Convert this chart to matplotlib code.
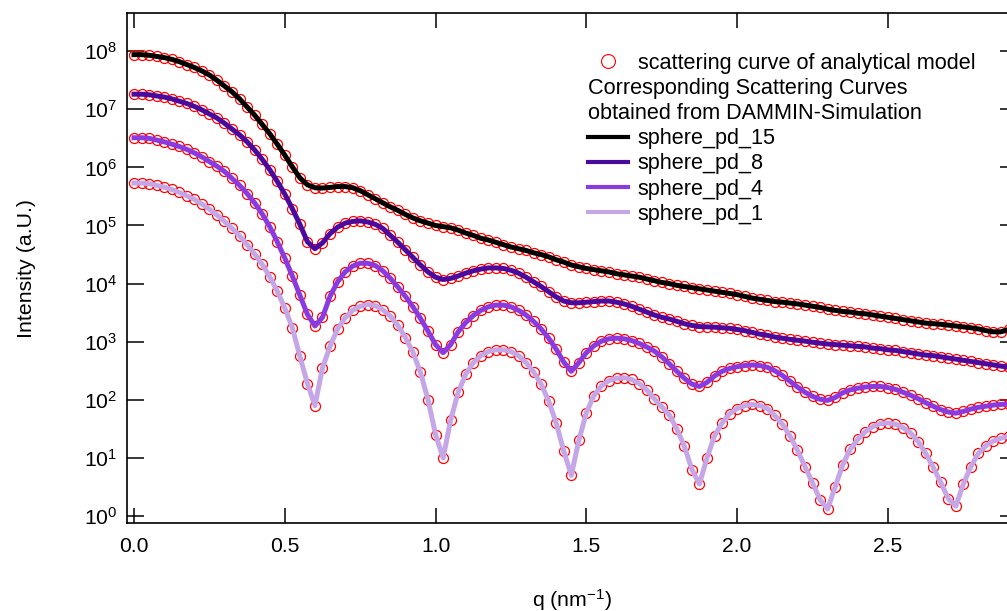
import matplotlib
matplotlib.use("Agg")
import matplotlib.pyplot as plt
from matplotlib.lines import Line2D
from matplotlib.ticker import FixedLocator, FuncFormatter, NullLocator, MultipleLocator
import numpy as np

plt.rcParams['font.family'] = ['Liberation Sans', 'DejaVu Sans']
plt.rcParams['mathtext.fontset'] = 'custom'
plt.rcParams['mathtext.rm'] = 'Liberation Sans'
plt.rcParams['mathtext.it'] = 'Liberation Sans:italic'
plt.rcParams['mathtext.default'] = 'regular'

# q grid in nm^-1 (step 0.025)
q = np.round(np.linspace(0.0, 2.925, 118), 3)

# log10 of intensity for every curve, same q grid
log_pd15 = [
    7.94, 7.94, 7.93, 7.91, 7.89, 7.86, 7.82, 7.77, 7.72, 7.66,
    7.59, 7.50, 7.40, 7.30, 7.18, 7.04, 6.90, 6.74, 6.58, 6.40,
    6.21, 6.01, 5.82, 5.70, 5.65, 5.645, 5.655, 5.67, 5.67, 5.65,
    5.60, 5.53, 5.46, 5.39, 5.32, 5.26, 5.19, 5.13, 5.08, 5.04,
    5.00, 4.98, 4.96, 4.92, 4.87, 4.83, 4.78, 4.75, 4.71, 4.67,
    4.63, 4.60, 4.57, 4.53, 4.50, 4.46, 4.41, 4.37, 4.32, 4.29,
    4.26, 4.24, 4.22, 4.20, 4.17, 4.15, 4.13, 4.11, 4.08, 4.05,
    4.02, 4.00, 3.97, 3.95, 3.93, 3.91, 3.89, 3.87, 3.85, 3.83,
    3.81, 3.78, 3.75, 3.73, 3.71, 3.69, 3.68, 3.665, 3.65, 3.63,
    3.61, 3.59, 3.56, 3.54, 3.52, 3.51, 3.49, 3.48, 3.46, 3.44,
    3.42, 3.40, 3.38, 3.36, 3.34, 3.32, 3.31, 3.30, 3.285, 3.27,
    3.255, 3.24, 3.22, 3.19, 3.17, 3.17, 3.21, 3.24,
]
log_pd8 = [
    7.26, 7.26, 7.25, 7.23, 7.21, 7.18, 7.14, 7.10, 7.05, 6.99,
    6.92, 6.85, 6.76, 6.66, 6.56, 6.44, 6.30, 6.14, 5.96, 5.76,
    5.54, 5.29, 5.02, 4.72, 4.60, 4.70, 4.86, 4.97, 5.04, 5.07,
    5.08, 5.06, 5.02, 4.95, 4.83, 4.71, 4.58, 4.45, 4.32, 4.20,
    4.11, 4.07, 4.09, 4.13, 4.18, 4.22, 4.25, 4.27, 4.27, 4.26,
    4.23, 4.18, 4.11, 4.03, 3.95, 3.86, 3.77, 3.70, 3.67, 3.67,
    3.68, 3.69, 3.70, 3.70, 3.68, 3.65, 3.61, 3.56, 3.51, 3.46,
    3.42, 3.39, 3.35, 3.31, 3.28, 3.26, 3.255, 3.25, 3.24, 3.23,
    3.21, 3.19, 3.16, 3.13, 3.11, 3.08, 3.06, 3.04, 3.025, 3.01,
    2.99, 2.975, 2.96, 2.95, 2.94, 2.93, 2.92, 2.91, 2.89, 2.88,
    2.86, 2.85, 2.83, 2.81, 2.79, 2.77, 2.76, 2.74, 2.72, 2.70,
    2.68, 2.66, 2.64, 2.62, 2.60, 2.58, 2.56, 2.55,
]
log_pd4 = [
    6.51, 6.51, 6.50, 6.47, 6.44, 6.40, 6.36, 6.31, 6.25, 6.18,
    6.10, 6.02, 5.93, 5.81, 5.69, 5.55, 5.39, 5.20, 4.98, 4.72,
    4.44, 4.13, 3.80, 3.47, 3.27, 3.42, 3.78, 4.03, 4.20, 4.30,
    4.35, 4.35, 4.31, 4.22, 4.09, 3.94, 3.78, 3.60, 3.40, 3.18,
    2.95, 2.81, 2.95, 3.17, 3.33, 3.45, 3.54, 3.60, 3.63, 3.63,
    3.60, 3.54, 3.46, 3.35, 3.22, 3.06, 2.87, 2.65, 2.49, 2.64,
    2.81, 2.93, 3.01, 3.05, 3.06, 3.05, 3.02, 2.97, 2.91, 2.84,
    2.74, 2.62, 2.49, 2.37, 2.27, 2.23, 2.30, 2.41, 2.49, 2.54,
    2.57, 2.59, 2.60, 2.59, 2.56, 2.50, 2.42, 2.32, 2.22, 2.13,
    2.06, 2.01, 1.99, 2.04, 2.12, 2.17, 2.20, 2.22, 2.23, 2.23,
    2.21, 2.18, 2.13, 2.08, 2.02, 1.95, 1.89, 1.83, 1.79, 1.77,
    1.80, 1.84, 1.87, 1.89, 1.91, 1.92, 1.93, 1.93,
]
log_pd1 = [
    5.73, 5.73, 5.72, 5.69, 5.66, 5.62, 5.57, 5.51, 5.45, 5.37,
    5.28, 5.18, 5.07, 4.95, 4.82, 4.67, 4.51, 4.33, 4.12, 3.87,
    3.58, 3.24, 2.75, 2.28, 1.90, 2.55, 2.92, 3.22, 3.41, 3.54,
    3.61, 3.64, 3.62, 3.55, 3.44, 3.28, 3.07, 2.82, 2.47, 2.00,
    1.40, 1.00, 1.65, 2.13, 2.44, 2.64, 2.76, 2.83, 2.86, 2.86,
    2.83, 2.76, 2.64, 2.48, 2.27, 1.98, 1.60, 1.12, 0.70, 1.30,
    1.78, 2.07, 2.24, 2.33, 2.37, 2.38, 2.35, 2.28, 2.17, 2.02,
    1.88, 1.74, 1.50, 1.20, 0.80, 0.55, 1.00, 1.38, 1.60, 1.76,
    1.85, 1.90, 1.92, 1.90, 1.85, 1.73, 1.58, 1.38, 1.13, 0.85,
    0.57, 0.28, 0.12, 0.50, 0.88, 1.15, 1.32, 1.45, 1.54, 1.59,
    1.60, 1.58, 1.52, 1.43, 1.28, 1.08, 0.84, 0.58, 0.30, 0.17,
    0.55, 0.85, 1.08, 1.21, 1.29, 1.34, 1.37, 1.39,
]

names = ['sphere_pd_15', 'sphere_pd_8', 'sphere_pd_4', 'sphere_pd_1']
colors = ['#000000', '#4a0a9e', '#8a3be0', '#c5a7e8']
series = [log_pd15, log_pd8, log_pd4, log_pd1]

W, H = 1007, 611
fig = plt.figure(figsize=(W / 100, H / 100), dpi=100)
ax = fig.add_axes([127 / W, 88 / H, 890 / W, 510 / H])

# analytical model: open red circles under each simulated curve
for vals in series:
    ax.plot(q, 10 ** np.array(vals), ls='none', marker='o', ms=7.2,
            mfc='none', mec='red', mew=0.9, zorder=2)
for vals, col in zip(series, colors):
    ax.plot(q, 10 ** np.array(vals), color=col, lw=3.6, zorder=3)

ax.set_yscale('log')
ax.set_xlim(-0.0232, 2.928)
ax.set_ylim(10 ** -0.1205, 10 ** 8.657)

ax.yaxis.set_major_locator(FixedLocator(10.0 ** np.arange(0, 9)))
ax.yaxis.set_minor_locator(NullLocator())
ax.yaxis.set_major_formatter(FuncFormatter(lambda v, p: '$10^{%d}$' % round(np.log10(v))))
ax.xaxis.set_major_locator(MultipleLocator(0.5))
ax.xaxis.set_major_formatter(FuncFormatter(lambda v, p: '%.1f' % v))

ax.tick_params(which='major', direction='in', top=True, right=True,
               width=1.1, labelsize=15.2, colors='black')
ax.tick_params(axis='y', length=12, pad=7)
ax.tick_params(axis='x', length=11, pad=10)
for sp in ax.spines.values():
    sp.set_linewidth(1.2)

ax.set_ylabel('Intensity (a.U.)', fontsize=15.4)
ax.yaxis.set_label_coords(-0.102, 0.5)
ax.set_xlabel('q (nm$^{-1}$)', fontsize=15.4)
ax.xaxis.set_label_coords(0.5, -0.1255)

handles = [Line2D([], [], ls='none', marker='o', ms=10, mfc='none', mec='red', mew=0.8),
           Line2D([], [], ls='none'), Line2D([], [], ls='none')]
handles += [Line2D([], [], color=c, lw=3) for c in colors]
labels = ['scattering curve of analytical model', ' ', ' '] + names

leg = ax.legend(handles, labels, loc='upper left',
                bbox_to_anchor=(588 / W, 1 - 53 / H), bbox_transform=fig.transFigure,
                frameon=False, fontsize=15.6, handlelength=1.84, handletextpad=0.46,
                labelspacing=0.19, borderpad=0, borderaxespad=0)

# two plain text rows inside the legend, starting at the handle column
fig.canvas.draw()
ren = fig.canvas.get_renderer()
x0 = leg.get_window_extent(ren).x0
extra = ['Corresponding Scattering Curves', 'obtained from DAMMIN-Simulation']
for t, s in zip(leg.get_texts()[1:3], extra):
    bb = t.get_window_extent(ren)
    fig.text(x0 / W, bb.y0 / H, s, ha='left', va='bottom', fontsize=15.6)

fig.savefig('out.png', dpi=100)
